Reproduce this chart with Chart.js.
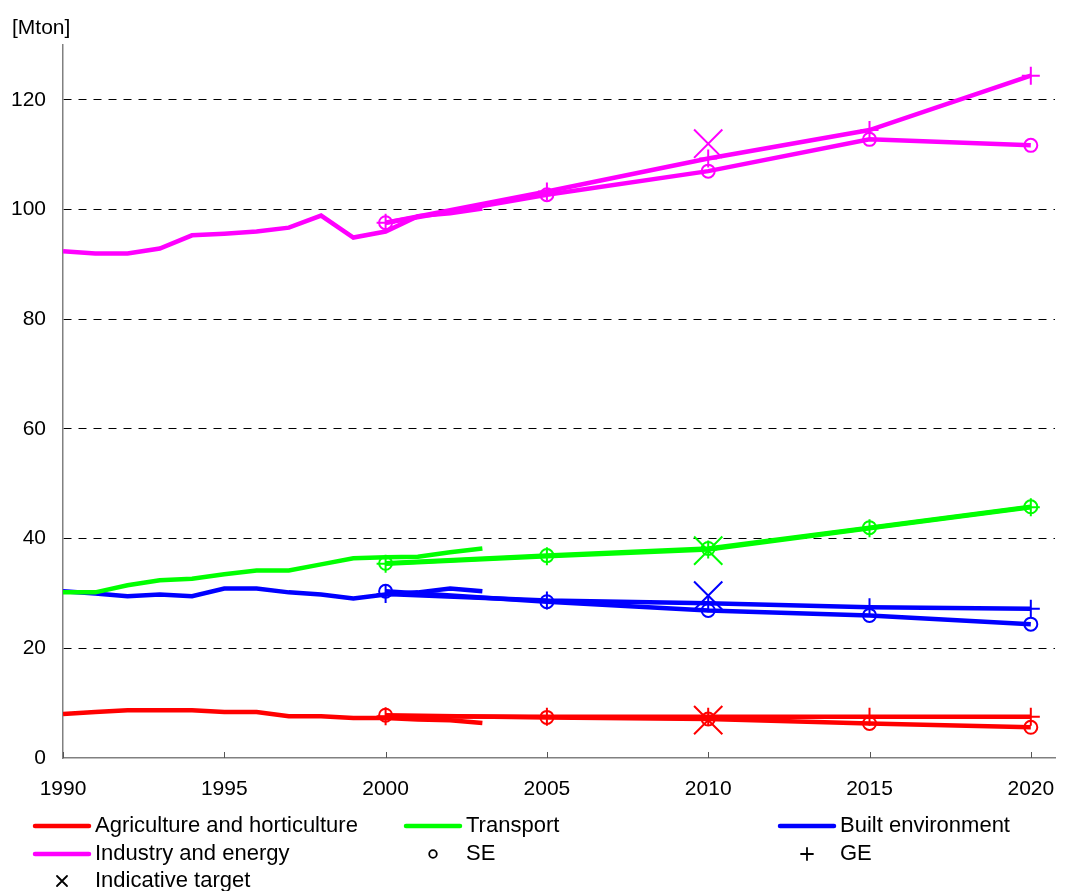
<!DOCTYPE html>
<html>
<head>
<meta charset="utf-8">
<script src="https://cdn.jsdelivr.net/npm/chart.js@4.4.0/dist/chart.umd.min.js"></script>
<style>
  html, body { margin: 0; padding: 0; background: #fff; }
</style>
</head>
<body>
<canvas id="chart" width="1084" height="891"></canvas>
<script>
// years
const histYears = [1990, 1991, 1992, 1993, 1994, 1995, 1996, 1997, 1998, 1999, 2000, 2001, 2002, 2003];
const projYears = [2000, 2005, 2010, 2015, 2020];
const targetYear = 2010;

// emissions in Mton, per sector
const agriHist = [8.0, 8.4, 8.7, 8.7, 8.7, 8.4, 8.4, 7.6, 7.6, 7.3, 7.3, 7.0, 6.9, 6.4];
const agriSE = [7.8, 7.4, 7.1, 6.3, 5.6];
const agriGE = [7.6, 7.5, 7.5, 7.5, 7.5];
const agriTarget = 6.9;

const transHist = [30.2, 30.2, 31.5, 32.4, 32.7, 33.5, 34.2, 34.2, 35.3, 36.4, 36.6, 36.7, 37.5, 38.2];
const transSE = [35.5, 36.9, 38.2, 42.0, 45.8];
const transGE = [35.4, 36.8, 38.0, 41.9, 45.7];
const transTarget = 37.8;

const builtHist = [30.4, 30.0, 29.5, 29.8, 29.5, 30.9, 30.9, 30.2, 29.8, 29.1, 29.8, 30.2, 30.9, 30.4];
const builtSE = [30.4, 28.5, 26.9, 26.0, 24.4];
const builtGE = [29.9, 28.7, 28.2, 27.5, 27.2];
const builtTarget = 29.6;

const indHist = [92.4, 92.0, 92.0, 92.9, 95.3, 95.6, 96.0, 96.7, 98.9, 94.9, 96.0, 98.8, 99.3, 100.2];
const indSE = [97.6, 102.7, 107.0, 112.8, 111.7];
const indGE = [97.6, 103.3, 109.3, 114.5, 124.4];
const indTarget = 112.0;

const xTicks = [1990, 1995, 2000, 2005, 2010, 2015, 2020];
const yTicks = [0, 20, 40, 60, 80, 100, 120];

const FONT_FAMILY = '"Liberation Sans", Arial, sans-serif';
const FONT_SIZE = 21;
const LEGEND_FONT_SIZE = 22;

const sectors = [
  { name: 'Agriculture and horticulture', color: '#ff0000', hist: agriHist, se: agriSE, ge: agriGE, target: agriTarget },
  { name: 'Transport', color: '#00ff00', hist: transHist, se: transSE, ge: transGE, target: transTarget },
  { name: 'Built environment', color: '#0000ff', hist: builtHist, se: builtSE, ge: builtGE, target: builtTarget },
  { name: 'Industry and energy', color: '#ff00ff', hist: indHist, se: indSE, ge: indGE, target: indTarget }
];

function pairs(xs, ys) {
  return xs.map((x, i) => ({ x: x, y: ys[i] }));
}

function lineSet(label, color, data, pointStyle, radius) {
  return {
    label: label,
    data: data,
    borderColor: color,
    backgroundColor: color,
    borderWidth: 4.5,
    tension: 0,
    pointStyle: pointStyle || 'circle',
    pointRadius: radius || 0,
    pointHoverRadius: radius || 0,
    pointBorderColor: color,
    pointBackgroundColor: 'rgba(0,0,0,0)',
    pointBorderWidth: 2
  };
}

const datasets = [];
sectors.forEach(s => {
  datasets.push(lineSet(s.name, s.color, pairs(histYears, s.hist)));
  datasets.push(lineSet(s.name + ' SE', s.color, pairs(projYears, s.se), 'circle', 6.5));
  datasets.push(lineSet(s.name + ' GE', s.color, pairs(projYears, s.ge), 'cross', 9));
  const t = lineSet(s.name + ' target', s.color, [{ x: targetYear, y: s.target }], 'crossRot', 20);
  t.showLine = false;
  datasets.push(t);
});

// legend layout: sample start x per column, y per row
const legendCols = [35, 406, 780];
const legendRows = [826, 854, 881];
const legendItems = [
  { text: sectors[0].name, color: sectors[0].color, kind: 'line', col: 0, row: 0 },
  { text: sectors[1].name, color: sectors[1].color, kind: 'line', col: 1, row: 0 },
  { text: sectors[2].name, color: sectors[2].color, kind: 'line', col: 2, row: 0 },
  { text: sectors[3].name, color: sectors[3].color, kind: 'line', col: 0, row: 1 },
  { text: 'SE', color: '#000', kind: 'circle', col: 1, row: 1 },
  { text: 'GE', color: '#000', kind: 'plus', col: 2, row: 1 },
  { text: 'Indicative target', color: '#000', kind: 'x', col: 0, row: 2 }
];

const extras = {
  id: 'extras',
  afterDraw(chart) {
    const ctx = chart.ctx;
    const area = chart.chartArea;
    const xs = chart.scales.x;
    ctx.save();

    // tick marks pointing into the plot
    ctx.strokeStyle = '#555';
    ctx.lineWidth = 1;
    xTicks.forEach(t => {
      const px = Math.round(xs.getPixelForValue(t)) + 0.5;
      ctx.beginPath();
      ctx.moveTo(px, area.bottom);
      ctx.lineTo(px, area.bottom - 6);
      ctx.stroke();
    });

    ctx.fillStyle = '#000';
    ctx.textAlign = 'left';
    ctx.textBaseline = 'middle';
    ctx.font = FONT_SIZE + 'px ' + FONT_FAMILY;
    ctx.fillText('[Mton]', 12, 28);

    ctx.font = LEGEND_FONT_SIZE + 'px ' + FONT_FAMILY;
    legendItems.forEach(it => {
      const x0 = legendCols[it.col];
      const y = legendRows[it.row];
      const cx = x0 + 27;
      ctx.strokeStyle = it.color;
      if (it.kind === 'line') {
        ctx.lineWidth = 4.5;
        ctx.lineCap = 'round';
        ctx.beginPath();
        ctx.moveTo(x0, y);
        ctx.lineTo(x0 + 54, y);
        ctx.stroke();
      } else if (it.kind === 'circle') {
        ctx.lineWidth = 1.8;
        ctx.beginPath();
        ctx.arc(cx, y, 3.8, 0, Math.PI * 2);
        ctx.stroke();
      } else if (it.kind === 'plus') {
        ctx.lineWidth = 1.8;
        ctx.beginPath();
        ctx.moveTo(cx - 6, y);
        ctx.lineTo(cx + 6, y);
        ctx.moveTo(cx, y - 6);
        ctx.lineTo(cx, y + 6);
        ctx.stroke();
      } else {
        ctx.lineWidth = 1.8;
        ctx.beginPath();
        ctx.moveTo(cx - 5, y - 5);
        ctx.lineTo(cx + 5, y + 5);
        ctx.moveTo(cx - 5, y + 5);
        ctx.lineTo(cx + 5, y - 5);
        ctx.stroke();
      }
      ctx.fillText(it.text, x0 + 60, y);
    });
    ctx.restore();
  }
};

Chart.defaults.font.family = FONT_FAMILY;
Chart.defaults.font.size = FONT_SIZE;
Chart.defaults.color = '#000';

new Chart(document.getElementById('chart'), {
  type: 'line',
  data: { datasets: datasets },
  options: {
    responsive: false,
    animation: false,
    layout: { padding: { left: 12, right: 29, top: 45, bottom: 73 } },
    plugins: {
      legend: { display: false },
      tooltip: { enabled: false },
      title: { display: false }
    },
    scales: {
      x: {
        type: 'linear',
        min: 1990,
        max: 2020.75,
        afterBuildTicks: scale => { scale.ticks = xTicks.map(v => ({ value: v })); },
        afterFit: scale => {
          scale.height = 60;
          scale.paddingLeft = 0;
          scale.paddingRight = 0;
        },
        ticks: { padding: 19, maxRotation: 0, autoSkip: false, callback: v => String(v) },
        grid: { drawOnChartArea: false, drawTicks: false },
        border: { color: '#808080', width: 1.5 }
      },
      y: {
        min: 0,
        max: 130,
        afterBuildTicks: scale => { scale.ticks = yTicks.map(v => ({ value: v })); },
        afterFit: scale => { scale.width = 51; },
        ticks: { padding: 17, callback: v => String(v) },
        grid: {
          drawTicks: false,
          lineWidth: 1,
          color: c => (c.tick && c.tick.value === 0 ? 'rgba(0,0,0,0)' : '#000')
        },
        border: { color: '#808080', width: 1.5, dash: [8, 7] }
      }
    }
  },
  plugins: [extras]
});
</script>
</body>
</html>
